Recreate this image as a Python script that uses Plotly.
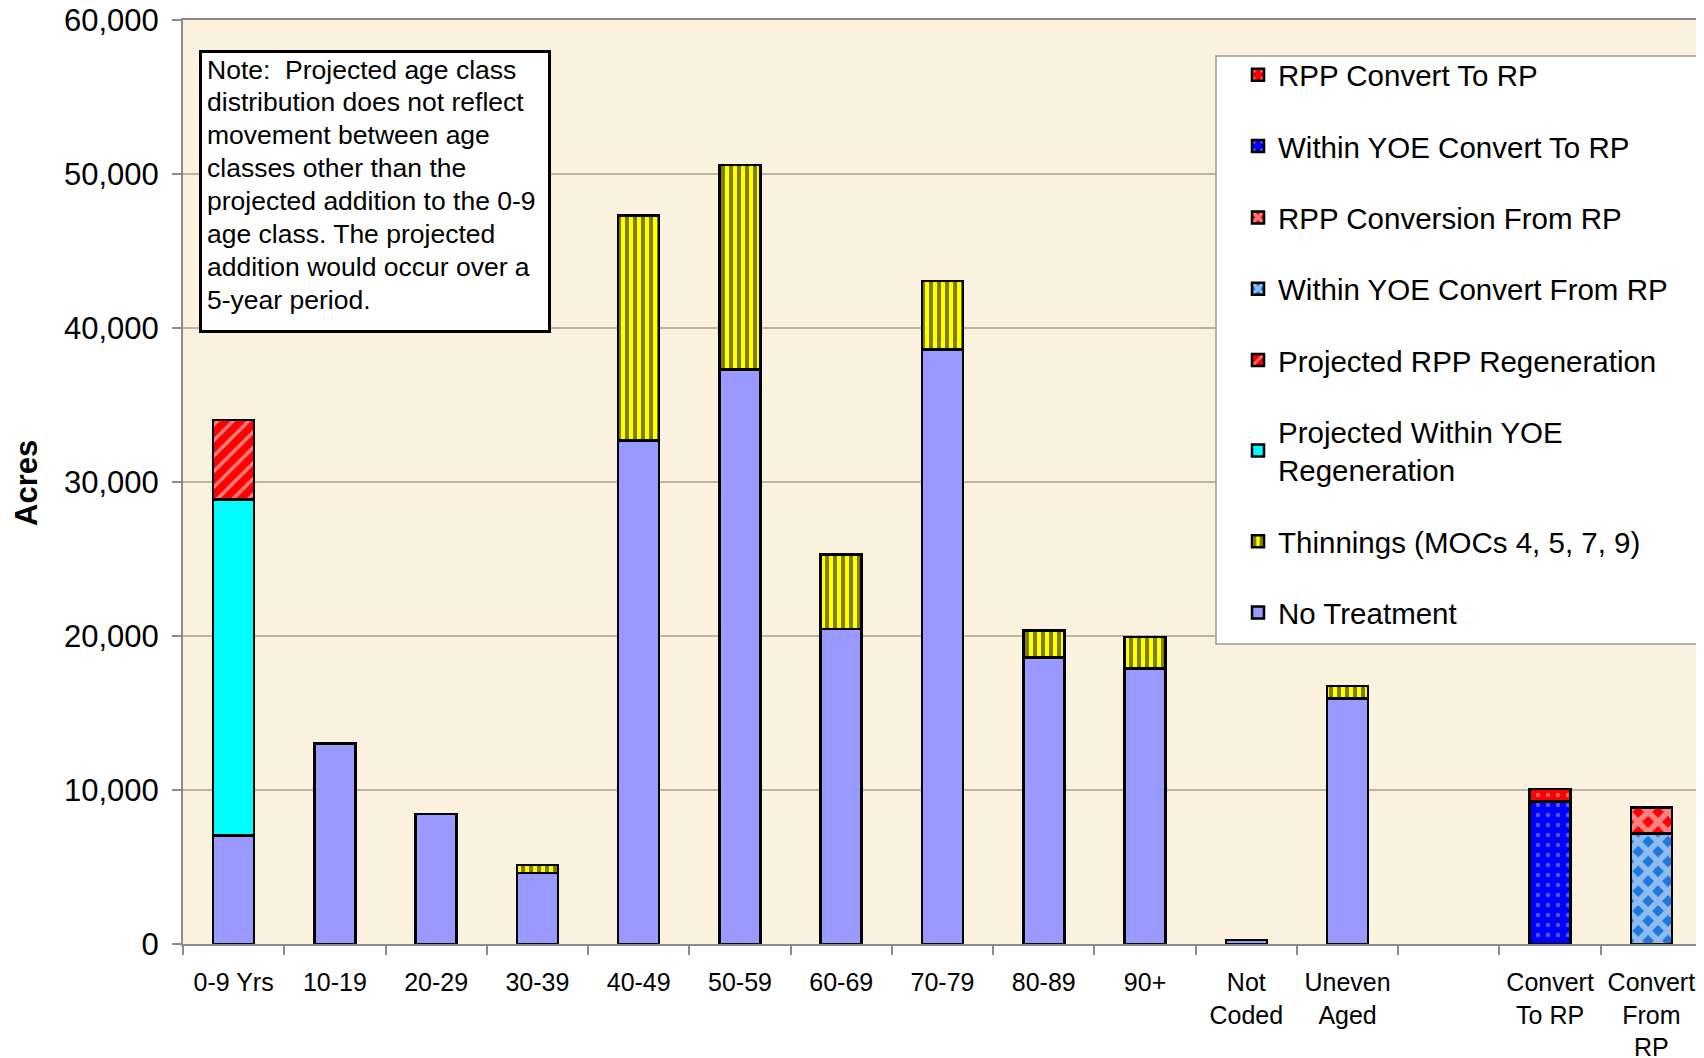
import plotly.graph_objects as go

# ---------------- data ----------------
categories = ["0-9 Yrs", "10-19", "20-29", "30-39", "40-49", "50-59", "60-69",
              "70-79", "80-89", "90+", "Not<br>Coded", "Uneven<br>Aged", " ",
              "Convert<br>To RP", "Convert<br>From<br>RP"]

no_treatment = [7030, 13030, 8450, 4600, 32700, 37300, 20450, 38600, 18600, 17900,
                270, 15950, None, None, None]
thinnings = [None, None, None, 530, 14600, 13300, 4850, 4450, 1770, 2050,
             None, 800, None, None, None]
proj_within_yoe = [21850] + [None] * 14
proj_rpp = [5150] + [None] * 14
within_yoe_from_rp = [None] * 14 + [7180]
rpp_from_rp = [None] * 14 + [1690]
within_yoe_to_rp = [None] * 13 + [9250, None]
rpp_to_rp = [None] * 13 + [800, None]

y_ticks = [0, 10000, 20000, 30000, 40000, 50000, 60000]

note_lines = ["Note:  Projected age class",
              "distribution does not reflect",
              "movement between age",
              "classes other than the",
              "projected addition to the 0-9",
              "age class. The projected",
              "addition would occur over a",
              "5-year period."]

# ---------------- figure ----------------
FONT = "Liberation Sans, Arial, sans-serif"
OFF = 8  # page body margin
W, H = 1704 - OFF, 1058 - OFF
L, R, T, B = 183 - OFF, 2, 20 - OFF, 114
PW, PH = W - L - R, H - T - B


def px_x(x):  # x in page pixels
    return (x - OFF - L) / PW


def px_y(y):  # y in page pixels
    return (H - B - (y - OFF)) / PH


series = [
    ("No Treatment", no_treatment, dict(color="#9999FF")),
    ("Thinnings (MOCs 4, 5, 7, 9)", thinnings,
     dict(color="#FFFF00", pattern=dict(shape="|", fgcolor="#000000", bgcolor="#FFFF00",
                                         size=8, solidity=0.5))),
    ("Projected Within YOE<br>Regeneration", proj_within_yoe, dict(color="#00FFFF")),
    ("Projected RPP Regeneration", proj_rpp,
     dict(color="#FF0000", pattern=dict(shape="/", fgcolor="#FFFFFF", bgcolor="#FF0000",
                                         size=11, solidity=0.3))),
    ("Within YOE Convert From RP", within_yoe_from_rp,
     dict(color="#1E78DC", pattern=dict(shape="x", fgcolor="#FFFFFF", bgcolor="#1E78DC",
                                         size=14, solidity=0.65))),
    ("RPP Conversion From RP", rpp_from_rp,
     dict(color="#FF0000", pattern=dict(shape="x", fgcolor="#FFFFFF", bgcolor="#FF0000",
                                         size=14, solidity=0.65))),
    ("Within YOE Convert To RP", within_yoe_to_rp,
     dict(color="#0000FF", pattern=dict(shape=".", fgcolor="#A8B0FF", bgcolor="#0000FF",
                                         size=10, solidity=0.15))),
    ("RPP Convert To RP", rpp_to_rp,
     dict(color="#FF0000", pattern=dict(shape=".", fgcolor="#FFC8C8", bgcolor="#FF0000",
                                         size=10, solidity=0.15))),
]

fig = go.Figure()
n = len(series)
for i, (name, vals, mk) in enumerate(series):
    mk = dict(mk)
    mk["line"] = dict(color="#000000", width=2.5)
    fig.add_trace(go.Bar(x=categories, y=vals, name=name, marker=mk,
                         legendgroup="g%d" % i, legendrank=100 + (n - i)))

annotations = [
    dict(text="<b>Acres</b>", xref="paper", yref="paper",
         x=px_x(27), y=px_y(483), xanchor="center", yanchor="middle",
         textangle=-90, showarrow=False,
         font=dict(family=FONT, size=31, color="#000000")),
]
for k, line in enumerate(note_lines):
    annotations.append(dict(
        text=line, xref="paper", yref="paper",
        x=px_x(206), y=px_y(69.5 + 32.9 * k), xanchor="left", yanchor="middle",
        align="left", showarrow=False, borderpad=0,
        font=dict(family=FONT, size=26.5, color="#000000")))

fig.update_layout(
    width=W, height=H,
    margin=dict(l=L, r=R, t=T, b=B, autoexpand=False),
    paper_bgcolor="#FFFFFF",
    plot_bgcolor="#FAF2DE",
    barmode="stack",
    bargap=0.595,
    font=dict(family=FONT, color="#000000"),
    showlegend=True,
    legend=dict(
        x=px_x(1238), y=px_y(49), xanchor="left", yanchor="top",
        bgcolor="rgba(0,0,0,0)", borderwidth=0,
        font=dict(family=FONT, size=29.5, color="#000000"),
        traceorder="grouped", tracegroupgap=30,
    ),
    xaxis=dict(
        type="category", categoryorder="array", categoryarray=categories,
        showgrid=False, showline=True, linecolor="#8C8C8C", linewidth=2, mirror=True,
        ticks="outside", tickson="boundaries", ticklen=9, tickcolor="#8C8C8C", tickwidth=1.5,
        tickangle=0,
        tickfont=dict(family=FONT, size=25, color="#000000"),
        ticklabelstandoff=15,
    ),
    yaxis=dict(
        range=[0, 60000], tickvals=y_ticks, tickformat=",d",
        showgrid=True, gridcolor="#BDB3A0", gridwidth=1.5,
        showline=True, linecolor="#8C8C8C", linewidth=2, mirror=True,
        ticks="outside", ticklen=9, tickcolor="#8C8C8C", tickwidth=1.5,
        tickfont=dict(family=FONT, size=31, color="#000000"),
        ticklabelstandoff=7, ticklabeloverflow="allow",
        zeroline=False,
    ),
    shapes=[
        dict(type="rect", xref="paper", yref="paper",
             x0=px_x(1216), x1=px_x(1702), y0=px_y(644), y1=px_y(56),
             fillcolor="#FFFFFF", line=dict(color="#9A9A9A", width=1.5), layer="above"),
        dict(type="rect", xref="paper", yref="paper",
             x0=px_x(200.5), x1=px_x(549.5), y0=px_y(331.5), y1=px_y(51.5),
             fillcolor="#FFFFFF", line=dict(color="#000000", width=3), layer="above"),
    ],
    annotations=annotations,
)

fig.write_html("out.html")
